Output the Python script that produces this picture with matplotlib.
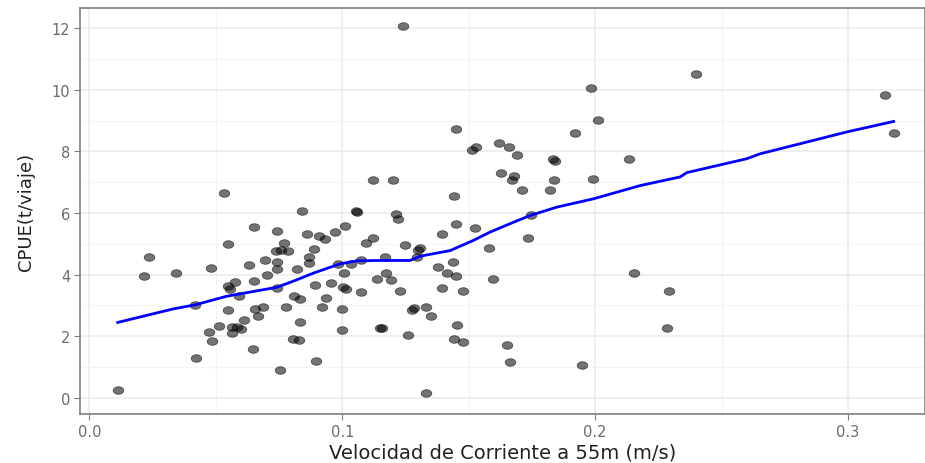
import numpy as np
import matplotlib.pyplot as plt
from matplotlib.path import Path
from matplotlib.ticker import MultipleLocator

# velocidad de corriente (m/s) y CPUE (t/viaje) por viaje
velocidad = [
    0.0534, 0.1123, 0.0840, 0.1055, 0.1060, 0.0651, 0.0743, 0.1012,
    0.0860, 0.0907, 0.0931, 0.0973, 0.0550, 0.0770, 0.0737, 0.0759,
    0.0786, 0.0888, 0.0869, 0.0867, 0.1094, 0.1123, 0.0236, 0.0218,
    0.0342, 0.0480, 0.0633, 0.0695, 0.0742, 0.0743, 0.0701, 0.0651,
    0.0577, 0.0547, 0.0558, 0.0592, 0.0743, 0.0820, 0.0982, 0.1006,
    0.1034, 0.1074, 0.1137, 0.0894, 0.0957, 0.1003, 0.1014, 0.1074,
    0.0937, 0.0811, 0.0833, 0.0418, 0.0550, 0.0654, 0.0688, 0.0667,
    0.0778, 0.0921, 0.0999, 0.0610, 0.0514, 0.0472, 0.0563, 0.0585,
    0.0599, 0.0563, 0.0832, 0.0999, 0.1150, 0.0486, 0.0804, 0.0828,
    0.0646, 0.0423, 0.0895, 0.0755, 0.0112,
    0.1242, 0.1983, 0.2010, 0.1920, 0.1450, 0.1621, 0.1658, 0.1692,
    0.1512, 0.1529, 0.1835, 0.1843, 0.2135, 0.1200, 0.1628, 0.1677,
    0.1670, 0.1837, 0.1990, 0.1712, 0.1822, 0.1442, 0.1213, 0.1222,
    0.1449, 0.1525, 0.1745, 0.1393, 0.1734, 0.1248, 0.1308, 0.1301,
    0.1167, 0.1295, 0.1580, 0.1437, 0.1380, 0.1173, 0.1413, 0.1450,
    0.1193, 0.1594, 0.2154, 0.1229, 0.1393, 0.1478, 0.1275, 0.1284,
    0.1333, 0.1352, 0.1455, 0.1159, 0.1261, 0.1442, 0.1478, 0.1650,
    0.1663, 0.1949, 0.1331, 0.2399, 0.3146, 0.3182, 0.2290, 0.2283,
]
cpue = [
    6.66, 7.07, 6.06, 6.05, 6.02, 5.55, 5.42, 5.59,
    5.31, 5.27, 5.15, 5.39, 5.00, 5.03, 4.76, 4.79,
    4.76, 4.84, 4.57, 4.38, 5.03, 5.18, 4.57, 3.95,
    4.07, 4.22, 4.30, 4.49, 4.41, 4.18, 3.98, 3.79,
    3.76, 3.64, 3.52, 3.32, 3.57, 4.18, 4.35, 4.07,
    4.35, 4.46, 3.86, 3.68, 3.72, 3.59, 3.53, 3.44,
    3.25, 3.32, 3.20, 3.01, 2.86, 2.88, 2.96, 2.66,
    2.96, 2.96, 2.89, 2.54, 2.35, 2.15, 2.30, 2.30,
    2.23, 2.11, 2.46, 2.19, 2.27, 1.84, 1.92, 1.87,
    1.60, 1.29, 1.21, 0.90, 0.27,
    12.07, 10.07, 9.03, 8.59, 8.71, 8.28, 8.13, 7.89,
    8.05, 8.13, 7.76, 7.68, 7.74, 7.07, 7.31, 7.19,
    7.07, 7.07, 7.11, 6.76, 6.76, 6.56, 5.98, 5.82,
    5.63, 5.51, 5.95, 5.31, 5.19, 4.97, 4.88, 4.80,
    4.57, 4.57, 4.85, 4.42, 4.26, 4.07, 4.07, 3.95,
    3.83, 3.86, 4.07, 3.48, 3.56, 3.47, 2.86, 2.93,
    2.96, 2.66, 2.38, 2.27, 2.04, 1.92, 1.80, 1.72,
    1.17, 1.06, 0.16, 10.51, 9.84, 8.59, 3.47, 2.27,
]

# curva suavizada (loess)
suave_x = [0.0112, 0.0332, 0.0418, 0.0543, 0.0741, 0.0807, 0.0886, 0.0991,
           0.1057, 0.1150, 0.1268, 0.1308, 0.1426, 0.1518, 0.1584, 0.1677,
           0.1743, 0.1848, 0.1993, 0.2178, 0.2336, 0.2362, 0.2599, 0.2652,
           0.2889, 0.2995, 0.3180]
suave_y = [2.45, 2.89, 3.02, 3.30, 3.59, 3.79, 4.05, 4.35,
           4.45, 4.46, 4.46, 4.60, 4.78, 5.11, 5.38, 5.70,
           5.92, 6.19, 6.46, 6.89, 7.17, 7.31, 7.76, 7.92,
           8.41, 8.63, 8.97]

# marcador eliptico
t = np.linspace(0, 2 * np.pi, 40)
elipse = Path(np.column_stack([np.cos(t), 0.72 * np.sin(t)]), closed=True)

fig = plt.figure(figsize=(9.25, 4.64), dpi=100)
ax = fig.add_axes([80 / 925, 49 / 464, 845 / 925, 406 / 464])

ax.scatter(velocidad, cpue, s=58, marker=elipse, facecolor='black',
           edgecolor='black', linewidth=0.6, alpha=0.55, zorder=3)
ax.plot(suave_x, suave_y, color='#0000FF', linewidth=2, zorder=4)

ax.set_xlim(-0.0037, 0.3304)
ax.set_ylim(-0.52, 12.65)
ax.xaxis.set_major_locator(MultipleLocator(0.1))
ax.xaxis.set_minor_locator(MultipleLocator(0.05))
ax.yaxis.set_major_locator(MultipleLocator(2))
ax.yaxis.set_minor_locator(MultipleLocator(1))
ax.xaxis.set_major_formatter(lambda v, p: f'{v:.1f}')

ax.grid(which='major', color='#EBEBEB', linewidth=1.1)
ax.grid(which='minor', color='#F4F4F4', linewidth=0.8)
ax.set_axisbelow(True)
for s in ax.spines.values():
    s.set_color('#7F7F7F')
    s.set_linewidth(1.2)
ax.tick_params(which='major', length=4, color='#7F7F7F', labelsize=10.5,
               labelcolor='#6B6B6B', pad=3)
ax.tick_params(which='minor', length=0)

ax.set_xlabel('Velocidad de Corriente a 55m (m/s)', fontsize=14, color='#222222',
              labelpad=3)
ax.set_ylabel('CPUE(t/viaje)', fontsize=13, color='#222222', labelpad=12)

plt.savefig('out.png', dpi=100)
